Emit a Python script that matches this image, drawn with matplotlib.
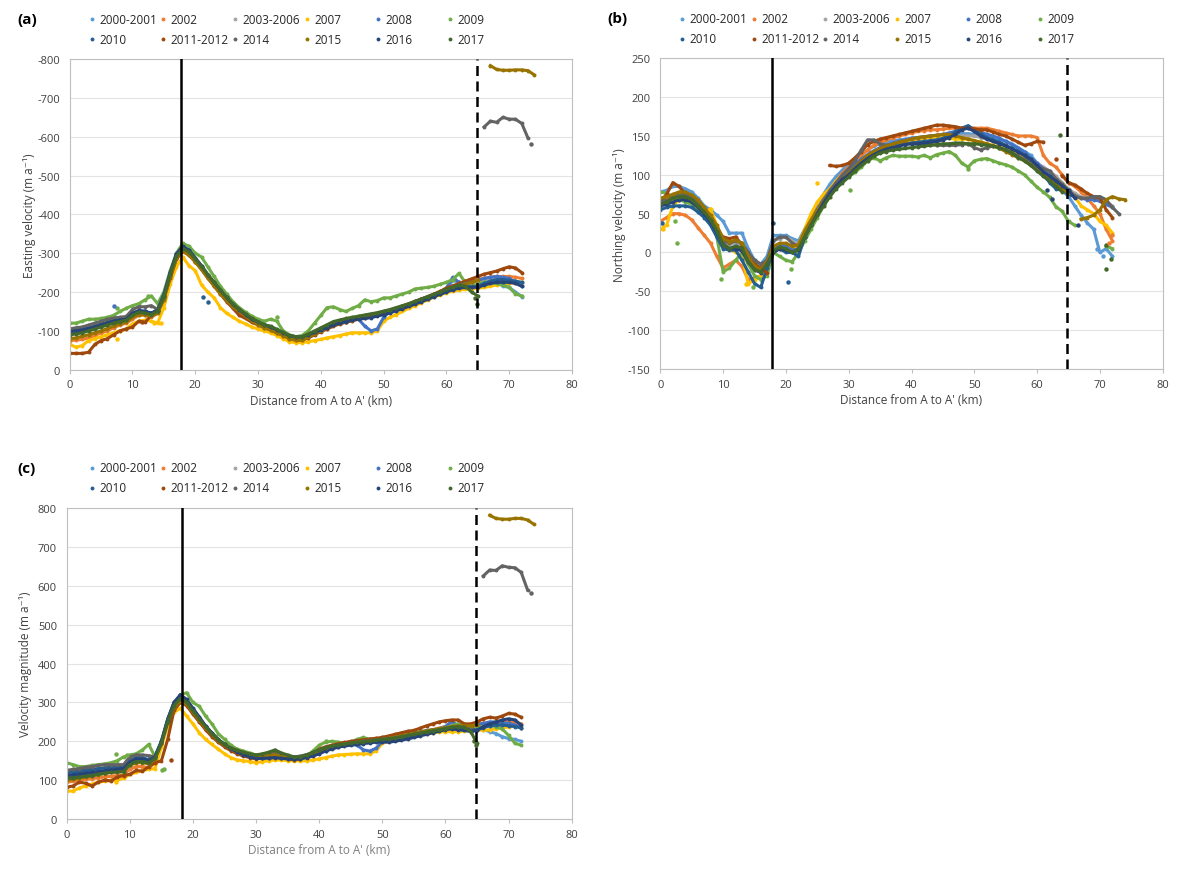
import numpy as np
import matplotlib.pyplot as plt
from matplotlib.lines import Line2D

plt.rcParams['font.family'] = ['Open Sans', 'DejaVu Sans']
plt.rcParams['axes.unicode_minus'] = False

years = ['2000-2001', '2002', '2003-2006', '2007', '2008', '2009',
         '2010', '2011-2012', '2014', '2015', '2016', '2017']
colors = ['#5B9BD5', '#ED7D31', '#A5A5A5', '#FFC000', '#4472C4', '#70AD47',
          '#255E91', '#9E480E', '#636363', '#997300', '#264478', '#43682B']

dist_km = list(range(75))
N = None
solid_km = [17.8, 17.8, 18.2]
dashed_km = 64.8

# ---- (a) easting velocity (m/a), one value per km ----
e_2000 = [-100, -100, -102, -105, -110, -115, -120, -125, -130, -132,
          -145, -150, -150, -145, -155, -190, -245, -292, -310, -300,
          -282, -262, -242, -222, -202, -184, -167, -154, -142, -130,
          -122, -115, -110, -102, -95, -88, -85, -85, -92, -98,
          -104, -110, -118, -122, -126, -130, -133, -136, -140, -142,
          -145, -150, -155, -160, -165, -172, -178, -185, -190, -196,
          -205, -230, -225, -222, -225, -228, -232, -228, -225, -215,
          -212, -200, -188]
e_2002 = [-75, -76, -78, -82, -88, -95, -100, -108, -115, -120,
          -130, -140, -140, -135, -145, -180, -235, -285, -305, -295,
          -278, -258, -238, -218, -198, -180, -162, -150, -138, -126,
          -118, -110, -105, -98, -90, -82, -78, -78, -85, -92,
          -100, -106, -115, -120, -124, -128, -132, -135, -138, -140,
          -145, -150, -155, -162, -168, -175, -180, -186, -193, -200,
          -208, -215, -220, -225, -228, -232, -235, -238, -240, -240,
          -240, -238, -235]
e_2003 = [-92, -94, -97, -102, -107, -112, -117, -122, -126, -130,
          -142, -150, -148, -143, -150, -185, -242, -290, -310, -300,
          -280, -262, -240, -220, -200, -182, -165, -152, -140, -128,
          -120, -112, -108, -100, -92, -85, -82, -82, -90, -95,
          -105, -112, -120, -125, -128, -132, -135, -138, -140, -143,
          -148, -152, -158, -163, -168, -174, -180, -186, -192, -198,
          -205, -212, -218, -222, -225, -228, -230, -232, -235, -235,
          -232, -228, -222]
e_2007 = [-65, -58, -62, -75, -80, -85, -90, -95, -100, -105,
          -118, -125, -128, -125, -120, -160, -220, -265, -290, -268,
          -255, -218, -200, -185, -160, -145, -135, -125, -118, -110,
          -105, -100, -95, -88, -80, -72, -70, -70, -72, -75,
          -78, -82, -85, -88, -92, -95, -95, -95, -95, -100,
          -125, -135, -142, -150, -158, -165, -172, -180, -187, -193,
          -198, -202, -205, -207, -208, -210, -212, -215, -218, -220,
          -222, -224, -225]
e_2008 = [-95, -97, -100, -104, -108, -113, -118, -122, -127, -130,
          -143, -150, -150, -145, -152, -190, -248, -295, -315, -305,
          -285, -265, -242, -222, -202, -184, -166, -153, -140, -128,
          -120, -113, -108, -100, -92, -85, -82, -83, -90, -97,
          -105, -112, -120, -124, -127, -130, -130, -112, -100, -105,
          -135, -150, -156, -162, -168, -175, -182, -188, -194, -200,
          -210, -238, -225, -222, -225, -230, -235, -238, -240, -238,
          -235, -225, -215]
e_2009 = [-120, -120, -125, -130, -130, -132, -135, -140, -150, -158,
          -165, -170, -180, -190, -170, -200, -255, -300, -325, -318,
          -300, -290, -265, -240, -215, -195, -175, -160, -148, -138,
          -130, -125, -130, -125, -100, -90, -85, -88, -100, -120,
          -140, -160, -162, -155, -150, -158, -165, -180, -175, -178,
          -185, -185, -190, -195, -200, -208, -210, -212, -215, -220,
          -225, -232, -248, -225, -215, -220, -225, -225, -222, -218,
          -212, -195, -190]
e_2010 = [-105, -105, -106, -108, -112, -118, -122, -127, -130, -132,
          -145, -152, -150, -145, -155, -195, -250, -298, -315, -305,
          -285, -265, -243, -222, -202, -184, -167, -154, -142, -130,
          -122, -115, -110, -102, -94, -87, -84, -84, -90, -97,
          -104, -112, -120, -124, -128, -132, -135, -138, -140, -143,
          -147, -151, -156, -162, -167, -173, -179, -185, -191, -197,
          -203, -208, -212, -215, -212, -215, -222, -228, -232, -232,
          -230, -228, -225]
e_2011 = [-42, -42, -42, -45, -65, -75, -80, -90, -100, -105,
          -110, -125, -122, -140, -155, -185, -235, -285, -305, -295,
          -278, -258, -236, -215, -195, -175, -158, -140, -132, -122,
          -115, -108, -102, -95, -88, -80, -76, -76, -82, -90,
          -98, -105, -112, -118, -122, -126, -130, -134, -138, -142,
          -146, -152, -158, -164, -170, -176, -182, -188, -195, -202,
          -210, -216, -222, -228, -234, -240, -246, -250, -254, -260,
          -265, -262, -250]
e_2014 = [-105, -108, -110, -115, -120, -125, -130, -133, -135, -137,
          -155, -162, -162, -165, -155, -190, -250, -295, -310, -300,
          -282, -262, -240, -220, -200, -182, -165, -152, -140, -128,
          -120, -113, -108, -100, -92, -85, -82, -83, -90, -97,
          -105, -112, -120, -125, -128, -132, -135, -138, -140, -143,
          -147, -152, -157, -163, -168, -174, -180, -186, -192, -198,
          -205, -212, -218, -222, -225, N, -625, -640, -637, -650,
          -645, -645, -634, -596]
e_2015 = [-80, -82, -86, -90, -95, -100, -106, -112, -118, -122,
          -135, -142, -142, -138, -145, -180, -238, -288, -305, -296,
          -278, -258, -236, -216, -196, -178, -162, -150, -138, -126,
          -116, -108, -102, -95, -88, -80, -76, -76, -84, -92,
          -100, -107, -115, -120, -124, -128, -132, -135, -138, -141,
          -145, -150, -155, -160, -166, -172, -178, -184, -190, -196,
          -202, -208, -214, -220, -225, -230, N, -783, -773, -771,
          -771, -772, -772, -770, -759]
e_2016 = [-98, -100, -102, -106, -110, -115, -120, -125, -128, -130,
          -145, -152, -150, -145, -152, -190, -248, -298, -318, -308,
          -288, -268, -245, -225, -205, -186, -168, -155, -142, -130,
          -123, -116, -110, -103, -95, -88, -85, -85, -90, -96,
          -102, -108, -115, -120, -124, -128, -130, -132, -134, -138,
          -142, -146, -152, -157, -163, -169, -175, -181, -188, -194,
          -200, -206, -210, -212, -213, -212, -218, -222, -225, -225,
          -225, -222, -215]
e_2017 = [-90, -92, -95, -100, -105, -110, -115, -120, -124, -127,
          -140, -148, -146, -142, -150, -188, -245, -292, -312, -303,
          -285, -265, -245, -225, -205, -186, -170, -156, -144, -132,
          -124, -116, -112, -104, -96, -88, -85, -85, -92, -100,
          -108, -116, -124, -128, -132, -135, -138, -141, -144, -147,
          -151, -155, -160, -165, -170, -176, -182, -188, -194, -200,
          -207, -212, -218, -215, -200, -190]
east_series = [e_2000, e_2002, e_2003, e_2007, e_2008, e_2009,
               e_2010, e_2011, e_2014, e_2015, e_2016, e_2017]
east_outliers = [('2009', 7.5, -160), ('2009', 12.5, -190), ('2009', 33.0, -135),
                 ('2007', 7.5, -80), ('2007', 13.5, -120), ('2007', 14.5, -120),
                 ('2008', 7.0, -164), ('2011-2012', 11.5, -122), ('2010', 21.2, -186),
                 ('2010', 22.0, -175), ('2017', 64.6, -185), ('2017', 64.9, -170),
                 ('2014', 73.5, -581)]

# ---- (b) northing velocity (m/a) ----
n_2000 = [78, 80, 85, 85, 82, 78, 70, 60, 55, 48,
          40, 25, 25, 25, 5, -10, -15, -5, 22, 22,
          22, 18, 15, 30, 45, 60, 75, 88, 98, 106,
          113, 120, 126, 132, 137, 140, 142, 144, 145, 146,
          147, 148, 149, 150, 150, 151, 152, 152, 153, 153,
          152, 151, 150, 148, 146, 143, 140, 135, 130, 125,
          115, 100, 92, 88, 80, 72, 60, 48, 38, 30,
          0, 5, -5]
n_2002 = [40, 45, 50, 50, 48, 42, 32, 22, 12, -5,
          -20, -15, -10, -18, -35, -33, -30, -20, 0, 5,
          5, 2, 5, 22, 38, 55, 68, 80, 92, 102,
          110, 118, 125, 132, 138, 142, 145, 148, 150, 152,
          154, 156, 157, 158, 158, 159, 160, 160, 160, 161,
          160, 160, 160, 158, 156, 154, 152, 150, 150, 150,
          148, 125, 115, 110, 100, 90, 85, 78, 70, 60,
          50, 30, 15]
n_2003 = [65, 68, 72, 75, 75, 70, 62, 54, 45, 32,
          15, 10, 12, 10, -5, -15, -20, -10, 15, 18,
          20, 15, 10, 25, 40, 52, 65, 76, 86, 94,
          100, 108, 116, 124, 130, 134, 137, 140, 142, 144,
          145, 146, 147, 148, 148, 149, 150, 150, 150, 150,
          150, 148, 146, 143, 140, 137, 133, 128, 124, 120,
          115, 110, 105, 98, 90, 82, 76, 72, 70, 70,
          70, 65, 60]
n_2007 = [30, 35, 60, 68, 70, 66, 58, 50, 56, 35,
          15, 5, 0, -5, -40, -35, -30, -15, 5, 10,
          10, 5, 10, 30, 50, 65, 75, 82, 92, 100,
          105, 112, 118, 125, 130, 134, 137, 140, 142, 144,
          145, 146, 147, 148, 148, 148, 147, 146, 146, 146,
          144, 142, 140, 138, 136, 133, 130, 126, 122, 118,
          112, 106, 100, 94, 88, 80, 72, 60, 55, 50,
          40, 35, 25]
n_2008 = [62, 65, 70, 72, 72, 68, 60, 52, 42, 28,
          12, 5, 8, 5, -10, -20, -25, -15, 5, 10,
          8, 3, 5, 22, 38, 52, 66, 78, 90, 98,
          106, 114, 120, 126, 131, 135, 138, 141, 143, 145,
          147, 148, 149, 150, 151, 152, 154, 156, 160, 163,
          158, 155, 152, 150, 147, 143, 139, 134, 129, 122,
          115, 108, 100, 92, 85, 78, 72, 70, 68, 68,
          66, 62, 58]
n_2009 = [78, 76, 70, 68, 65, 62, 56, 48, 38, 20,
          -25, -20, -10, 0, -15, -30, -35, -30, 0, -5,
          -10, -12, 0, 15, 30, 45, 60, 72, 85, 95,
          98, 103, 110, 118, 122, 118, 122, 125, 124, 124,
          124, 123, 125, 122, 126, 128, 130, 125, 115, 110,
          118, 120, 121, 118, 115, 113, 110, 105, 100, 92,
          84, 78, 71, 59, 53, 40, 35, N, N, N,
          N, 8, 5]
n_2010 = [55, 58, 60, 60, 60, 58, 52, 45, 35, 20,
          5, 3, 3, -10, -25, -40, -45, -20, 0, 5,
          0, 0, -5, 20, 35, 50, 62, 75, 85, 95,
          102, 110, 117, 123, 128, 132, 135, 137, 139, 140,
          141, 142, 143, 144, 145, 147, 150, 155, 160, 163,
          158, 152, 148, 145, 142, 138, 134, 130, 125, 118,
          110, 100, 90, 82, 80, 75, 72]
n_2011 = [65, 75, 90, 85, 75, 70, 65, 55, 40, 30,
          20, 18, 20, 10, -5, -15, -20, -26, N, N,
          N, N, N, N, N, N, N, 112, 111, 112,
          115, 122, 130, 139, 143, 146, 148, 150, 152, 154,
          156, 158, 160, 162, 164, 164, 163, 162, 160, 160,
          159, 158, 158, 155, 152, 150, 146, 142, 138, 140,
          143, 142, N, N, 99, 90, 87, 82, 76, 72,
          70, 55, 45]
n_2014 = [65, 68, 72, 76, 76, 72, 65, 56, 45, 32,
          15, 12, 15, 12, 0, -10, -15, -10, 15, 20,
          20, 12, 8, 25, 40, 55, 68, 80, 90, 100,
          108, 118, 132, 145, 145, 140, 138, 138, 139, 140,
          140, 140, 140, 139, 138, 138, 138, 138, 139, 140,
          135, 132, 135, 137, 135, 132, 128, 124, 120, 116,
          110, 108, 105, 95, 88, 80, 73, 70, 70, 72,
          72, 68, 58, 50]
n_2015 = [70, 72, 75, 78, 78, 74, 68, 58, 48, 35,
          18, 14, 16, 12, -5, -18, -22, -12, 8, 12,
          12, 8, 10, 28, 42, 55, 66, 76, 86, 94,
          102, 110, 118, 125, 130, 134, 137, 140, 142, 144,
          146, 148, 149, 150, 151, 152, 152, 150, 148, 146,
          144, 142, 140, 137, 134, 130, 126, 122, 118, 112,
          106, 100, 94, 88, 82, 76, N, 43, 45, 48,
          55, 68, 72, 69, 68]
n_2016 = [60, 62, 65, 68, 68, 65, 58, 50, 40, 26,
          10, 5, 5, 2, -12, -22, -26, -15, 0, 5,
          3, 0, 3, 20, 35, 50, 64, 76, 86, 94,
          100, 108, 115, 121, 126, 130, 133, 135, 137, 139,
          140, 140, 141, 142, 143, 145, 148, 152, 158, 160,
          156, 150, 146, 143, 140, 137, 133, 129, 125, 120,
          112, 104, 98, 92, 86, 80, 70]
n_2017 = [62, 65, 70, 72, 72, 68, 60, 52, 42, 28,
          10, 5, 8, 6, -12, -22, -25, -15, 2, 7,
          5, 0, 4, 20, 35, 48, 60, 72, 82, 90,
          97, 105, 112, 118, 124, 128, 130, 132, 133, 134,
          135, 136, 137, 138, 139, 140, 140, 141, 141, 140,
          140, 139, 138, 137, 135, 132, 128, 122, 118, 112,
          105, 98, 92, 85, 78]
north_series = [n_2000, n_2002, n_2003, n_2007, n_2008, n_2009,
                n_2010, n_2011, n_2014, n_2015, n_2016, n_2017]
north_outliers = [('2009', 2.3, 41), ('2009', 2.7, 12), ('2009', 9.6, -34),
                  ('2009', 14.8, -45), ('2009', 20.8, -21), ('2009', 30.2, 80),
                  ('2009', 49.0, 108), ('2010', 0.3, 38), ('2010', 17.9, 38),
                  ('2010', 20.3, -38), ('2007', 0.5, 30), ('2007', 7.9, 56),
                  ('2007', 24.9, 89), ('2007', 13.7, -41), ('2017', 63.6, 151),
                  ('2017', 71.0, 10), ('2017', 71.7, -8), ('2017', 71.0, -21),
                  ('2016', 61.5, 80), ('2016', 62.4, 69), ('2016', 66.5, 36),
                  ('2002', 72.0, 22), ('2002', 71.5, 12), ('2000-2001', 69.5, 4),
                  ('2000-2001', 70.5, -4), ('2011-2012', 63.0, 120)]

# ---- (c) velocity magnitude (m/a) ----
m_2000 = [118, 120, 122, 124, 126, 128, 130, 132, 133, 135,
          150, 158, 158, 152, 162, 200, 255, 295, 310, 300,
          278, 258, 238, 220, 204, 192, 182, 175, 170, 165,
          162, 164, 166, 168, 163, 160, 158, 160, 165, 170,
          176, 182, 186, 190, 192, 195, 197, 198, 200, 202,
          204, 206, 208, 210, 213, 216, 219, 222, 225, 228,
          232, 245, 232, 230, 232, 233, 230, 225, 220, 212,
          207, 205, 200]
m_2002 = [95, 97, 100, 102, 104, 106, 108, 110, 112, 114,
          128, 135, 135, 132, 145, 190, 245, 288, 305, 295,
          272, 252, 232, 215, 200, 188, 178, 170, 165, 160,
          157, 160, 162, 163, 158, 155, 153, 155, 160, 166,
          172, 178, 183, 187, 190, 193, 195, 197, 200, 202,
          205, 208, 211, 214, 217, 220, 223, 226, 230, 234,
          238, 240, 242, 242, 244, 245, 246, 248, 248, 250,
          250, 248, 245]
m_2003 = [110, 112, 114, 116, 118, 120, 122, 124, 126, 127,
          142, 150, 150, 146, 158, 195, 250, 290, 308, 298,
          275, 255, 235, 218, 202, 190, 180, 173, 168, 163,
          160, 162, 165, 167, 162, 160, 158, 160, 165, 170,
          176, 182, 186, 190, 192, 195, 197, 198, 200, 202,
          203, 206, 208, 212, 215, 218, 222, 225, 228, 230,
          233, 236, 238, 238, 238, 240, 242, 243, 244, 244,
          243, 240, 235]
m_2007 = [72, 72, 80, 85, 90, 95, 97, 100, 100, 105,
          115, 120, 125, 128, 130, 185, 240, 275, 285, 265,
          245, 222, 205, 192, 180, 168, 158, 152, 150, 148,
          145, 148, 150, 152, 152, 150, 150, 150, 150, 152,
          155, 158, 162, 165, 166, 167, 168, 168, 168, 175,
          195, 200, 205, 208, 212, 215, 218, 220, 222, 224,
          225, 225, 225, 227, 230, 230, 228, 230, 232, 235,
          237, 240, 235]
m_2008 = [108, 110, 112, 114, 117, 120, 122, 124, 126, 128,
          145, 152, 152, 148, 160, 198, 255, 298, 315, 303,
          280, 258, 238, 220, 204, 192, 182, 175, 168, 163,
          160, 162, 164, 166, 162, 158, 156, 158, 163, 168,
          175, 182, 186, 190, 192, 194, 190, 178, 175, 182,
          200, 205, 208, 212, 215, 218, 222, 225, 228, 232,
          238, 252, 240, 238, 240, 243, 246, 250, 250, 248,
          246, 242, 235]
m_2009 = [145, 140, 135, 135, 138, 140, 142, 145, 150, 160,
          165, 168, 178, 192, 160, 200, 250, 290, 320, 325,
          300, 290, 265, 245, 220, 205, 190, 180, 175, 170,
          165, 165, 170, 175, 165, 158, 152, 155, 162, 175,
          190, 198, 200, 198, 195, 198, 205, 210, 205, 205,
          210, 212, 215, 218, 220, 222, 225, 228, 230, 232,
          235, 240, 245, 240, 232, 235, 238, 240, 238, 232,
          215, 195, 190]
m_2010 = [120, 122, 124, 126, 128, 130, 132, 133, 134, 135,
          150, 158, 158, 152, 162, 200, 258, 300, 318, 305,
          282, 260, 238, 220, 204, 190, 180, 172, 166, 160,
          156, 156, 158, 160, 158, 156, 155, 156, 160, 165,
          170, 176, 182, 186, 190, 192, 194, 196, 198, 200,
          202, 204, 206, 209, 212, 215, 218, 222, 226, 230,
          234, 236, 236, 234, 230, 230, 235, 240, 242, 242,
          240, 238, 235]
m_2011 = [82, 85, 95, 92, 85, 95, 100, 98, 108, 112,
          115, 125, 123, 135, 145, 150, 205, 280, 300, 292,
          270, 250, 230, 212, 198, 186, 176, 168, 162, 158,
          155, 157, 160, 162, 158, 155, 153, 155, 160, 168,
          180, 186, 190, 194, 197, 200, 202, 204, 206, 208,
          210, 214, 218, 222, 226, 228, 234, 240, 245, 250,
          253, 255, 255, 245, 245, 250, 258, 262, 260, 265,
          272, 270, 262]
m_2014 = [125, 128, 130, 133, 135, 138, 140, 140, 140, 140,
          160, 165, 165, 163, 160, 195, 255, 295, 310, 300,
          278, 258, 238, 220, 204, 192, 182, 175, 170, 166,
          163, 165, 168, 170, 165, 162, 160, 162, 166, 170,
          176, 182, 186, 190, 193, 195, 198, 200, 202, 204,
          206, 208, 210, 213, 216, 220, 224, 227, 230, 232,
          234, 236, 238, 238, 238, N, 626, 641, 640, 652,
          648, 647, 635, 590]
m_2015 = [100, 102, 105, 108, 111, 114, 117, 120, 122, 124,
          138, 145, 145, 142, 155, 192, 248, 288, 305, 296,
          275, 255, 235, 218, 202, 190, 180, 173, 168, 163,
          160, 162, 164, 166, 161, 158, 156, 158, 163, 168,
          174, 180, 185, 189, 192, 195, 197, 199, 201, 203,
          205, 208, 211, 214, 217, 220, 223, 226, 229, 232,
          235, 238, 240, 240, 240, 242, N, 782, 774, 772,
          772, 774, 774, 770, 759]
m_2016 = [112, 114, 116, 118, 120, 122, 124, 126, 128, 130,
          146, 154, 154, 150, 160, 198, 255, 300, 320, 308,
          285, 263, 240, 222, 205, 192, 181, 173, 166, 160,
          156, 156, 157, 158, 156, 155, 154, 155, 158, 162,
          168, 175, 180, 185, 188, 190, 192, 194, 196, 198,
          198, 198, 200, 203, 206, 210, 214, 218, 222, 226,
          230, 232, 230, 228, 225, 228, 238, 245, 250, 255,
          258, 255, 242]
m_2017 = [105, 106, 108, 110, 112, 115, 118, 120, 121, 122,
          140, 148, 148, 144, 156, 195, 250, 292, 310, 300,
          278, 258, 238, 220, 204, 192, 183, 177, 172, 168,
          165, 168, 172, 178, 170, 165, 160, 160, 165, 172,
          178, 184, 188, 191, 193, 196, 198, 199, 201, 203,
          205, 207, 209, 212, 215, 218, 221, 224, 227, 230,
          233, 236, 238, 236, 225, 195]
mag_series = [m_2000, m_2002, m_2003, m_2007, m_2008, m_2009,
              m_2010, m_2011, m_2014, m_2015, m_2016, m_2017]
mag_outliers = [('2009', 7.8, 168), ('2009', 9.5, 165), ('2009', 15.1, 125),
                ('2009', 15.4, 128), ('2011-2012', 16.5, 152), ('2007', 7.8, 95),
                ('2017', 64.6, 200), ('2017', 64.9, 190), ('2014', 73.5, 583),
                ('2009', 41.0, 200)]

W, H = 1193, 870
fig = plt.figure(figsize=(W / 100, H / 100), dpi=100)


def px_box(left, top, right, bottom):
    return [left / W, 1 - bottom / H, (right - left) / W, (bottom - top) / H]


def draw_panel(box, series, outliers, ylim, yticks, ylabel, solid_x, xlab_color):
    ax = fig.add_axes(px_box(*box))
    for vals, c in zip(series, colors):
        y = np.array(vals + [N] * (len(dist_km) - len(vals)), dtype=float)
        ax.plot(dist_km, y, color=c, lw=2.2, marker='o', ms=2.8, mew=0, zorder=2)
    for name, x, v in outliers:
        ax.plot(x, v, 'o', color=colors[years.index(name)], ms=3.2, mew=0, zorder=2)
    ax.axvline(solid_x, color='black', lw=1.8, zorder=3)
    ax.axvline(dashed_km, color='black', lw=1.8, ls=(0, (4, 2.2)), zorder=3)
    ax.set_xlim(0, 80)
    ax.set_xticks(range(0, 81, 10))
    ax.set_ylim(*ylim)
    ax.set_yticks(yticks)
    ax.grid(axis='y', color='#E3E3E3', lw=0.8)
    ax.set_axisbelow(True)
    for s in ax.spines.values():
        s.set_color('#BFBFBF')
        s.set_linewidth(0.8)
    ax.tick_params(axis='y', length=0, pad=7, labelsize=8, labelcolor='#404040')
    ax.tick_params(axis='x', length=3, color='#BFBFBF', pad=4, labelsize=8,
                   labelcolor='#404040')
    ax.set_ylabel(ylabel, fontsize=8.5, color='#404040')
    ax.yaxis.set_label_coords(-0.068, 0.5)
    ax.set_xlabel("Distance from A to A' (km)", fontsize=8.5, color=xlab_color)
    ax.xaxis.set_label_coords(0.5, -0.078)
    return ax


draw_panel((69.7, 60, 572, 370.7), east_series, east_outliers, (0, -800),
           range(0, -801, -100), 'Easting velocity (m a⁻¹)', solid_km[0], '#404040')
draw_panel((660.3, 59.3, 1162.7, 370), north_series, north_outliers, (-150, 250),
           range(-150, 251, 50), 'Northing velocity (m a⁻¹)', solid_km[1], '#404040')
draw_panel((66.7, 509.3, 571.7, 820), mag_series, mag_outliers, (0, 800),
           range(0, 801, 100), 'Velocity magnitude (m a⁻¹)', solid_km[2], '#7F7F7F')


def legend_block(x0, y0, tag, tag_x):
    fig.text(tag_x / W, 1 - y0 / H, tag, fontsize=11, fontweight='bold',
             va='center', ha='left')
    for i, (name, c) in enumerate(zip(years, colors)):
        x = x0 + (i % 6) * 71.6
        y = y0 + (i // 6) * 20
        fig.add_artist(Line2D([x / W], [1 - y / H], marker='o', ms=2.8, mew=0,
                              color=c, transform=fig.transFigure))
        fig.text((x + 7.5) / W, 1 - y / H, name, fontsize=8.5, color='#262626',
                 va='center', ha='left')


legend_block(91.7, 20.3, '(a)', 17)
legend_block(682, 19.5, '(b)', 607)
legend_block(91.7, 469, '(c)', 17)

fig.savefig('out.png', dpi=100)
